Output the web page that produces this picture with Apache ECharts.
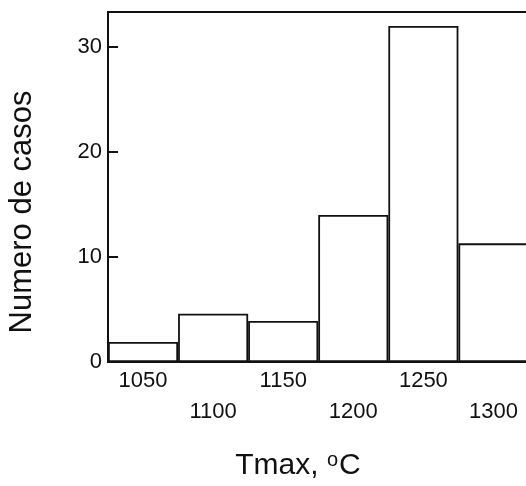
<!DOCTYPE html>
<html>
<head>
<meta charset="utf-8">
<script src="https://cdn.jsdelivr.net/npm/echarts@6/dist/echarts.min.js"></script>
<style>
html,body{margin:0;padding:0;background:#fff;}
#c{width:526px;height:486px;}
</style>
</head>
<body>
<div id="c"></div>
<script>
const categories = ['1050', '1100', '1150', '1200', '1250', '1300'];
const counts = [1.9, 4.6, 3.9, 14, 32, 11.3];
const yAxisTitle = 'Numero de casos';
const xAxisTitle = 'Tmax, {s|o}C';

const ink = '#111111';
const font = '"Liberation Sans", Arial, Helvetica, sans-serif';

const chart = echarts.init(document.getElementById('c'), null, {renderer: 'canvas'});
chart.setOption({
  backgroundColor: '#ffffff',
  animation: false,
  grid: {
    left: 108, width: 420.5, top: 12, bottom: 124,
    outerBoundsMode: 'none', containLabel: false,
    show: true, borderColor: ink, borderWidth: 2, backgroundColor: 'transparent'
  },
  xAxis: {
    type: 'category',
    data: categories,
    axisTick: {show: false},
    axisLine: {show: true, lineStyle: {color: ink, width: 2}},
    axisLabel: {
      color: ink, fontFamily: font, fontSize: 22, margin: 3, lineHeight: 31,
      interval: 0,
      formatter: function (v, i) { return i % 2 === 1 ? '\n' + v : v; }
    },
    splitLine: {show: false}
  },
  yAxis: {
    type: 'value',
    min: 0, max: 33.33, interval: 10,
    axisLine: {show: true, lineStyle: {color: ink, width: 2}},
    axisTick: {show: true, inside: true, length: 10, lineStyle: {color: ink, width: 2}},
    axisLabel: {
      color: ink, fontFamily: font, fontSize: 22, margin: 6,
      formatter: function (v) { return (v % 10 === 0) ? String(v) : ''; }
    },
    splitLine: {show: false}
  },
  series: [{
    type: 'bar',
    data: counts,
    barCategoryGap: '0%',
    itemStyle: {color: '#ffffff', borderColor: ink, borderWidth: 1.8},
    silent: true
  }],
  graphic: [
    {
      type: 'text', x: 22, y: 212, rotation: Math.PI / 2,
      style: {
        text: yAxisTitle, fill: ink, font: '31px ' + font,
        textAlign: 'center', textVerticalAlign: 'middle'
      }
    },
    {
      type: 'text', x: 298, y: 466,
      style: {
        text: xAxisTitle, fill: ink, fontFamily: font, fontSize: 30,
        align: 'center', verticalAlign: 'middle',
        rich: {
          s: {fontSize: 20, fontFamily: font, fill: ink, verticalAlign: 'top', padding: [0, 1, 12, 0]}
        }
      }
    }
  ]
});
</script>
</body>
</html>
